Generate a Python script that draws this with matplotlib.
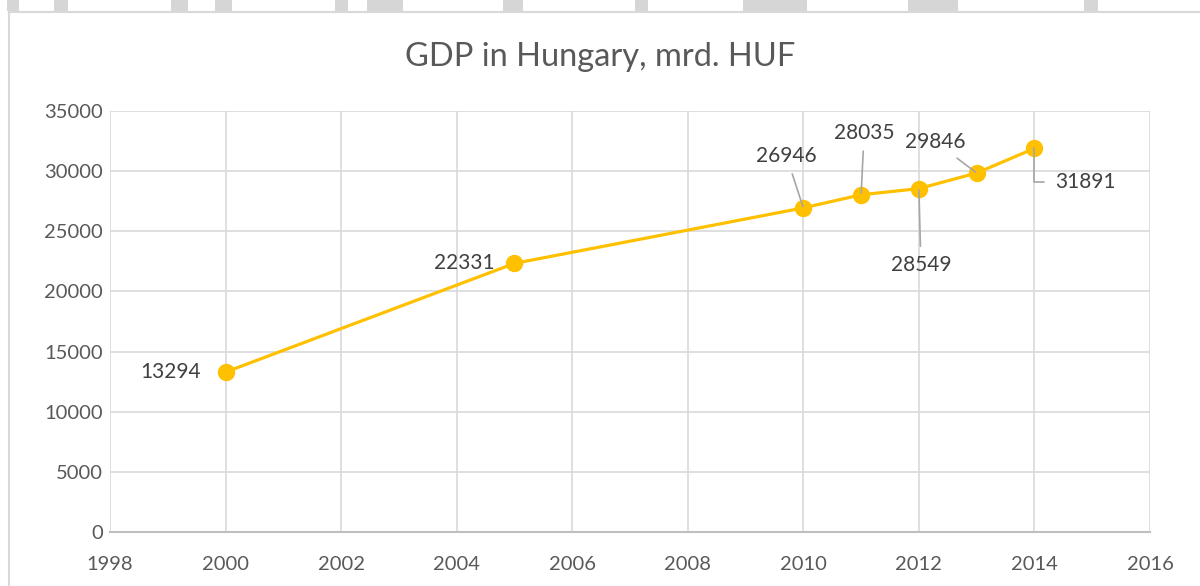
import matplotlib.pyplot as plt
from matplotlib.patches import Rectangle
from matplotlib.lines import Line2D

years = [2000, 2005, 2010, 2011, 2012, 2013, 2014]
gdp = [13294, 22331, 26946, 28035, 28549, 29846, 31891]

# label offsets in pixels relative to each point (dx, dy)
label_offsets = [(-55, 0), (-50, 0), (-17, 52), (3, 62), (2, -76), (-41, 31), (21, -34)]
leaders = [False, False, True, True, True, True, True]

plt.rcParams['font.family'] = ['Lato', 'DejaVu Sans']
fig = plt.figure(figsize=(12, 5.86), dpi=100)
ax = fig.add_axes([110 / 1200, 54 / 586, 1040 / 1200, 421 / 586])

gold = '#FFC000'
ax.plot(years, gdp, '-o', color=gold, lw=2.3, ms=11.5, zorder=3, clip_on=False)

ax.set_xlim(1998, 2016)
ax.set_ylim(0, 35000)
ax.set_xticks(range(1998, 2017, 2))
ax.set_yticks(range(0, 35001, 5000))
ax.grid(True, color='#D9D9D9', lw=1.2)
ax.set_axisbelow(True)
for s in ['top', 'right', 'left']:
    ax.spines[s].set_visible(False)
ax.spines['bottom'].set_color('#BFBFBF')
ax.spines['bottom'].set_linewidth(1.5)
ax.tick_params(length=0, labelsize=14.5, colors='#595959')
ax.tick_params(axis='x', pad=17)
ax.tick_params(axis='y', pad=5)

px = 0.72  # pixels -> points at dpi 100
for (x, y, (dx, dy), lead) in zip(years, gdp, label_offsets, leaders):
    if y == 31891:
        ax.annotate(str(y), (x, y), xytext=(dx * px, dy * px), textcoords='offset points',
                    ha='left', va='center', fontsize=15, color='#404040',
                    arrowprops=dict(arrowstyle='-', color='#A6A6A6', lw=1.2,
                                    connectionstyle='angle,angleA=0,angleB=90,rad=0',
                                    shrinkA=6, shrinkB=0))
    elif lead:
        ax.annotate(str(y), (x, y), xytext=(dx * px, dy * px), textcoords='offset points',
                    ha='center', va='center', fontsize=15, color='#404040',
                    arrowprops=dict(arrowstyle='-', color='#A6A6A6', lw=1.2,
                                    shrinkA=4, shrinkB=1))
    else:
        ax.annotate(str(y), (x, y), xytext=(dx * px, dy * px), textcoords='offset points',
                    ha='center', va='center', fontsize=15, color='#404040')

fig.text(0.5, 1 - 57 / 586, 'GDP in Hungary, mrd. HUF', ha='center', va='center',
         fontsize=23.5, color='#595959')

# chart frame and faint watermark fragments at the top edge
fig.add_artist(Line2D([9 / 1200, 1], [1 - 12 / 586] * 2, color='#D9D9D9', lw=1.5))
fig.add_artist(Line2D([9 / 1200] * 2, [0, 1 - 12 / 586], color='#D9D9D9', lw=1.5))
for x0, x1 in [(7, 19), (54, 68), (171, 188), (215, 232), (335, 348), (367, 403),
               (503, 523), (635, 648), (743, 807), (908, 958), (1084, 1098)]:
    fig.add_artist(Rectangle((x0 / 1200, 1 - 11 / 586), (x1 - x0) / 1200, 11 / 586,
                             color='#D6D6D6', lw=0))

fig.savefig('out.png', dpi=100)
